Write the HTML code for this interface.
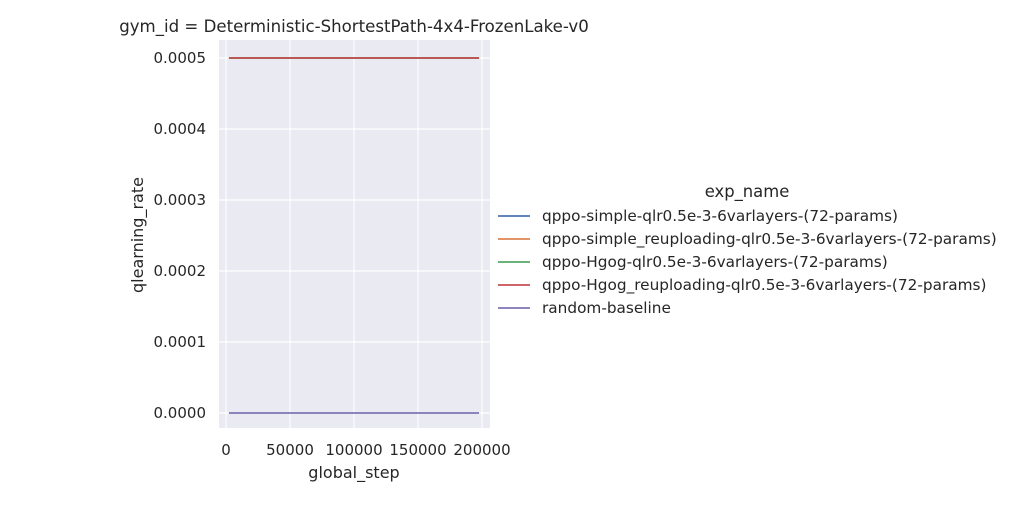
<!DOCTYPE html>
<html><head><meta charset="utf-8"><style>
body{margin:0;background:#fff;font-family:"Liberation Sans","DejaVu Sans",sans-serif;}
svg text{font-family:"DejaVu Sans","Liberation Sans",sans-serif;fill:#262626;}
</style></head><body>
<svg width="1009" height="500">
<text x="354" y="32" font-size="16.6" text-anchor="middle">gym_id = Deterministic-ShortestPath-4x4-FrozenLake-v0</text>
<rect x="219" y="40" width="271" height="388" fill="#eaeaf2"/>
<g id="grid"></g><g id="lines"></g><g id="ticks"></g>
<text x="354" y="478" font-size="16" text-anchor="middle">global_step</text>
<text transform="translate(143,235) rotate(-90)" font-size="16" text-anchor="middle">qlearning_rate</text>
<text x="747" y="197" font-size="16.4" text-anchor="middle">exp_name</text>
<g id="legend"></g>
</svg>
<script>
const xTicks=[0,50000,100000,150000,200000];
const xTickLabels=["0","50000","100000","150000","200000"];
const yTicks=[0,0.0001,0.0002,0.0003,0.0004,0.0005];
const yTickLabels=["0.0000","0.0001","0.0002","0.0003","0.0004","0.0005"];
const seriesNames=["qppo-simple-qlr0.5e-3-6varlayers-(72-params)","qppo-simple_reuploading-qlr0.5e-3-6varlayers-(72-params)","qppo-Hgog-qlr0.5e-3-6varlayers-(72-params)","qppo-Hgog_reuploading-qlr0.5e-3-6varlayers-(72-params)","random-baseline"];
const seriesColors=["#4c72b0","#dd8452","#55a868","#c44e52","#8172b3"];
const steps=[2300,197700];
const seriesValues=[[0.0005,0.0005],[0.0005,0.0005],[0.0005,0.0005],[0.0005,0.0005],[0,0]];
const NS="http://www.w3.org/2000/svg";
const xs=v=>226+v*(64/50000);
const ys=v=>413-v*(355/0.0005);
function mk(t,a,p){const e=document.createElementNS(NS,t);for(const k in a)e.setAttribute(k,a[k]);p.appendChild(e);return e;}
const g=document.getElementById('grid'),tk=document.getElementById('ticks'),ln=document.getElementById('lines'),lg=document.getElementById('legend');
xTicks.forEach((v,i)=>{const l=mk('line',{x1:xs(v),x2:xs(v),y1:40,y2:428,stroke:'#fff','stroke-width':1.2},g);

const t=mk('text',{x:xs(v),y:455,'font-size':15,'text-anchor':'middle'},tk);t.textContent=xTickLabels[i];
});
yTicks.forEach((v,i)=>{const l=mk('line',{x1:219,x2:490,y1:ys(v),y2:ys(v),stroke:'#fff','stroke-width':1.2},g);

const t=mk('text',{x:206,y:ys(v)+5,'font-size':15,'text-anchor':'end'},tk);t.textContent=yTickLabels[i];
});
seriesValues.forEach((vals,s)=>{const pts=vals.map((v,i)=>xs(steps[i])+','+ys(v)).join(' ');
const p=mk('polyline',{points:pts,fill:'none',stroke:seriesColors[s],'stroke-width':1.8},ln);

const y=216+s*23;
const ll=mk('line',{x1:498,x2:530,y1:y,y2:y,stroke:seriesColors[s],'stroke-width':1.8},lg);

const t=mk('text',{x:542,y:y+5,'font-size':15.3},lg);t.textContent=seriesNames[s];
});
</script>
</body></html>
